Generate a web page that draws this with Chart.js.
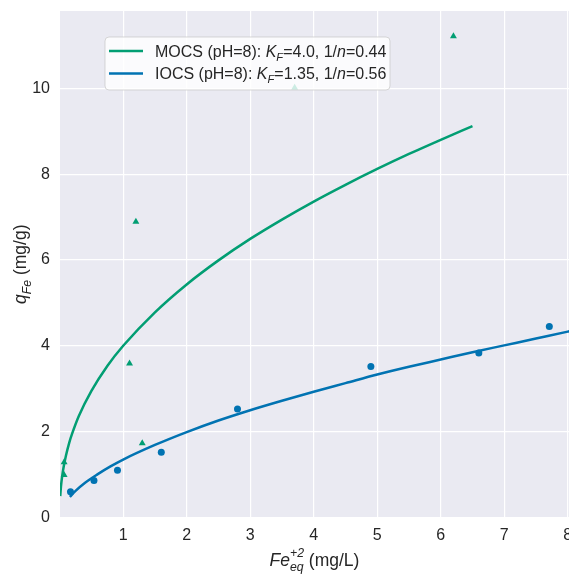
<!DOCTYPE html>
<html>
<head>
<meta charset="utf-8">
<script src="https://cdn.jsdelivr.net/npm/chart.js@4"></script>
<style>
html, body { margin: 0; padding: 0; background: #fff; overflow: hidden; }
#wrap { width: 590px; height: 577px; }
</style>
</head>
<body>
<div id="wrap"><canvas id="isoChart" width="590" height="577"></canvas></div>
<script>
// measured points (Ce in mg/L, qe in mg/g)
const mocsCe = [0.07, 0.07, 1.10, 1.20, 1.30, 3.70, 6.20];
const mocsQe = [1.29, 0.99, 3.59, 6.89, 1.73, 10.01, 11.21];
const iocsCe = [0.17, 0.54, 0.91, 1.60, 2.80, 4.90, 6.60, 7.71];
const iocsQe = [0.60, 0.86, 1.10, 1.52, 2.53, 3.52, 3.83, 4.45];

// fitted Freundlich curves
const mocsFitX = [0.009, 0.02, 0.04, 0.06, 0.1, 0.15, 0.2, 0.3, 0.5, 0.75, 1.0, 1.5, 2.0, 2.5, 3.0, 3.5, 4.0, 4.5, 5.0, 5.5, 6.0, 6.5];
const mocsFitY = [0.50, 0.72, 0.97, 1.16, 1.45, 1.74, 1.97, 2.36, 2.95, 3.53, 4.00, 4.78, 5.43, 5.99, 6.49, 6.94, 7.36, 7.75, 8.12, 8.47, 8.80, 9.12];
const iocsFitX = [0.16, 0.25, 0.4, 0.6, 0.8, 1.0, 1.5, 2.0, 2.5, 3.0, 3.5, 4.0, 4.5, 5.0, 5.5, 6.0, 6.5, 7.0, 7.5, 8.0, 8.1];
const iocsFitY = [0.48, 0.62, 0.81, 1.01, 1.19, 1.35, 1.69, 1.99, 2.26, 2.50, 2.72, 2.93, 3.13, 3.33, 3.51, 3.68, 3.85, 4.01, 4.17, 4.33, 4.36];

const xTicks = [1, 2, 3, 4, 5, 6, 7, 8];
const yTicks = [0, 2, 4, 6, 8, 10];

const GREEN = '#029e73';
const BLUE = '#0173b2';
const FONT = '"Liberation Sans", Arial, sans-serif';

const toXY = (xs, ys) => xs.map((x, i) => ({ x: x, y: ys[i] }));

// draws text made of pieces: italic, subscript, superscript
function drawRich(ctx, segs, x, y, size, align) {
    const fontOf = (s, small) => (s.it ? 'italic ' : '') + (small ? size * 0.7 : size) + 'px ' + FONT;
    const widths = segs.map(s => {
        ctx.font = fontOf(s, false);
        let w = s.t ? ctx.measureText(s.t).width : 0;
        ctx.font = fontOf(s, true);
        if (s.sub) w = Math.max(w, ctx.measureText(s.sub).width);
        if (s.sup) w = Math.max(w, ctx.measureText(s.sup).width);
        return w;
    });
    const total = widths.reduce((a, b) => a + b, 0);
    let cx = align === 'center' ? x - total / 2 : x;
    ctx.textAlign = 'left';
    ctx.textBaseline = 'alphabetic';
    segs.forEach((s, i) => {
        if (s.t) {
            ctx.font = fontOf(s, false);
            ctx.fillText(s.t, cx, y);
        }
        if (s.sub) {
            ctx.font = fontOf(s, true);
            ctx.fillText(s.sub, cx, y + size * 0.28);
        }
        if (s.sup) {
            ctx.font = fontOf(s, true);
            ctx.fillText(s.sup, cx, y - size * 0.5);
        }
        cx += widths[i];
    });
}

const bgPlugin = {
    id: 'bg',
    beforeDraw(chart) {
        const { ctx, chartArea: a } = chart;
        ctx.save();
        ctx.fillStyle = '#eaeaf2';
        ctx.fillRect(a.left, a.top, a.right - a.left, a.bottom - a.top);
        ctx.restore();
    }
};

const legendPlugin = {
    id: 'boxLegend',
    afterDatasetsDraw(chart) {
        const ctx = chart.ctx;
        ctx.save();
        ctx.beginPath();
        ctx.roundRect(105, 37, 285, 53, 4);
        ctx.fillStyle = 'rgba(255,255,255,0.8)';
        ctx.fill();
        ctx.strokeStyle = 'rgba(204,204,204,0.8)';
        ctx.lineWidth = 1;
        ctx.stroke();
        const rows = [
            { c: GREEN, y: 51, k: '4.0', n: '0.44', name: 'MOCS (pH=8): ' },
            { c: BLUE, y: 73.5, k: '1.35', n: '0.56', name: 'IOCS (pH=8): ' }
        ];
        rows.forEach(r => {
            ctx.strokeStyle = r.c;
            ctx.lineWidth = 2.5;
            ctx.beginPath();
            ctx.moveTo(109, r.y);
            ctx.lineTo(143, r.y);
            ctx.stroke();
            ctx.fillStyle = '#262626';
            drawRich(ctx, [
                { t: r.name },
                { t: 'K', it: true },
                { sub: 'F', it: true },
                { t: '=' + r.k + ', 1/' },
                { t: 'n', it: true },
                { t: '=' + r.n }
            ], 155, r.y + 5.5, 16, 'left');
        });
        ctx.restore();
    }
};

const titlesPlugin = {
    id: 'axisTitles',
    afterDraw(chart) {
        const { ctx, chartArea: a } = chart;
        ctx.save();
        ctx.fillStyle = '#262626';
        drawRich(ctx, [
            { t: 'Fe', it: true },
            { sub: 'eq', sup: '+2', it: true },
            { t: ' (mg/L)' }
        ], (a.left + a.right) / 2, 566, 17.5, 'center');
        ctx.translate(26, (a.top + a.bottom) / 2);
        ctx.rotate(-Math.PI / 2);
        drawRich(ctx, [
            { t: 'q', it: true },
            { sub: 'Fe', it: true },
            { t: ' (mg/g)' }
        ], 0, 0, 17.5, 'center');
        ctx.restore();
    }
};

new Chart(document.getElementById('isoChart'), {
    type: 'scatter',
    data: {
        datasets: [
            {
                label: 'MOCS fit',
                data: toXY(mocsFitX, mocsFitY),
                showLine: true,
                borderColor: GREEN,
                borderWidth: 2.5,
                pointRadius: 0,
                cubicInterpolationMode: 'monotone'
            },
            {
                label: 'IOCS fit',
                data: toXY(iocsFitX, iocsFitY),
                showLine: true,
                borderColor: BLUE,
                borderWidth: 2.5,
                pointRadius: 0,
                cubicInterpolationMode: 'monotone'
            },
            {
                label: 'MOCS',
                data: toXY(mocsCe, mocsQe),
                pointStyle: 'triangle',
                pointRadius: 4,
                backgroundColor: GREEN,
                borderWidth: 0
            },
            {
                label: 'IOCS',
                data: toXY(iocsCe, iocsQe),
                pointStyle: 'circle',
                pointRadius: 3.5,
                backgroundColor: BLUE,
                borderWidth: 0
            }
        ]
    },
    options: {
        responsive: false,
        animation: false,
        devicePixelRatio: 1,
        layout: { padding: { top: 11, right: 21, left: 0, bottom: 0 } },
        plugins: {
            legend: { display: false },
            tooltip: { enabled: false }
        },
        scales: {
            x: {
                type: 'linear',
                min: 0.005,
                max: 8.02,
                afterBuildTicks: scale => { scale.ticks = xTicks.map(v => ({ value: v })); },
                afterFit: scale => { scale.height = 59.5; },
                grid: { color: '#ffffff', lineWidth: 1.2, drawTicks: false },
                border: { display: false },
                ticks: { color: '#262626', font: { size: 16, family: FONT }, padding: 8, maxRotation: 0 }
            },
            y: {
                type: 'linear',
                min: 0,
                max: 11.8,
                afterBuildTicks: scale => { scale.ticks = yTicks.map(v => ({ value: v })); },
                afterFit: scale => {
                    scale.width = 60;
                    scale.paddingTop = 0;
                    scale.paddingBottom = 0;
                },
                grid: { color: '#ffffff', lineWidth: 1.2, drawTicks: false },
                border: { display: false },
                ticks: { color: '#262626', font: { size: 16, family: FONT }, padding: 10 }
            }
        }
    },
    plugins: [bgPlugin, legendPlugin, titlesPlugin]
});
</script>
</body>
</html>
